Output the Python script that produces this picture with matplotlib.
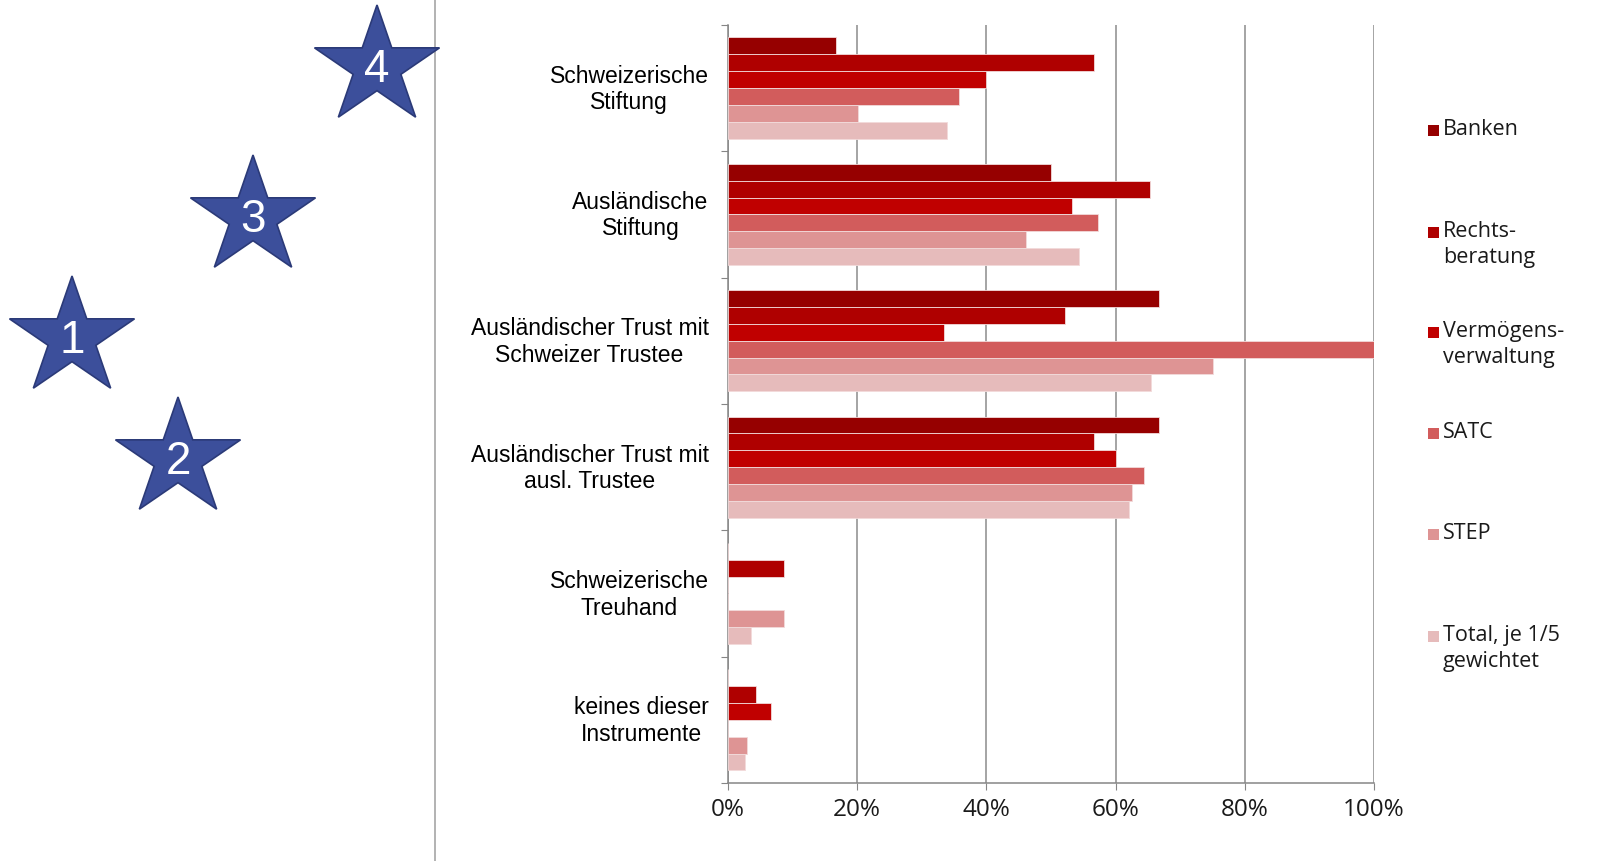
import numpy as np
import matplotlib.pyplot as plt
import matplotlib.transforms as mtrans
from matplotlib.patches import Polygon, Rectangle
from matplotlib.ticker import FuncFormatter

# categories (top to bottom) and series
categories = ['Schweizerische\nStiftung', 'Ausländische\nStiftung',
              'Ausländischer Trust mit\nSchweizer Trustee',
              'Ausländischer Trust mit\nausl. Trustee',
              'Schweizerische\nTreuhand', 'keines dieser\nInstrumente']
series = ['Banken', 'Rechts-\nberatung', 'Vermögens-\nverwaltung', 'SATC', 'STEP',
          'Total, je 1/5\ngewichtet']

# values in percent
banken = [16.7, 50.0, 66.7, 66.7, 0.0, 0.0]
rechts = [56.6, 65.3, 52.2, 56.6, 8.7, 4.4]
verm = [40.0, 53.3, 33.4, 60.0, 0.0, 6.6]
satc = [35.7, 57.2, 100.0, 64.4, 0.0, 0.0]
step = [20.1, 46.1, 75.0, 62.5, 8.6, 2.9]
total = [33.9, 54.4, 65.5, 62.0, 3.5, 2.7]
values = [banken, rechts, verm, satc, step, total]

colors = ['#960000', '#AF0000', '#C00000', '#D25C5C', '#DE9494', '#E6BBBB']

# decorative numbered stars (pixel positions)
star_labels = ['1', '2', '3', '4']
star_x = [72, 178, 253, 377]
star_y = [339, 460, 218, 68]

W, H = 1616, 862
fig = plt.figure(figsize=(W / 100, H / 100), dpi=100)

# overlay for decorations
bg = fig.add_axes([0, 0, 1, 1])
bg.set_xlim(0, W)
bg.set_ylim(H, 0)
bg.axis('off')

bg.plot([435, 435], [0, H], color='#A6A6A6', lw=1.2)


def star(cx, cy, r):
    ang = np.pi / 2 + np.arange(10) * np.pi / 5
    rad = np.where(np.arange(10) % 2 == 0, r, r * 0.382)
    pts = np.column_stack([cx + 1.06 * rad * np.cos(ang), cy - rad * np.sin(ang)])
    return pts


for lab, sx, sy in zip(star_labels, star_x, star_y):
    bg.add_patch(Polygon(star(sx, sy, 62), closed=True, fc='#3C4F9B',
                         ec='#2B3A78', lw=1.2, zorder=3))
    bg.text(sx, sy + 2, lab, color='white', fontsize=33, ha='center', va='center',
            family='Liberation Sans', zorder=4)

# legend drawn by hand (marker next to first line)
leg_y = [131, 233, 333, 434, 535, 637]
for lab, c, ly in zip(series, colors, leg_y):
    bg.add_patch(Rectangle((1428, ly - 5), 11, 11, fc=c, ec='none'))
    bg.text(1443, ly - 12, lab, fontsize=15.5, family='Open Sans', va='top',
            ha='left', color='#1A1A1A', linespacing=1.3)

# main chart
ax = fig.add_axes([728 / W, 0.0905, 646 / W, 0.8795])
n = len(series)
h = 0.8 / n
y = np.arange(len(categories))
for j, (vals, c) in enumerate(zip(values, colors)):
    ax.barh(y + (j - (n - 1) / 2) * h, vals, height=h, color=c,
            edgecolor='#F2DADA', linewidth=0.6, zorder=3)

ax.set_xlim(0, 100)
ax.set_ylim(len(categories) - 0.5, -0.5)
ax.set_xticks(np.arange(0, 101, 20))
ax.xaxis.set_major_formatter(FuncFormatter(lambda v, p: f'{v:.0f}%'))
ax.set_yticks(np.arange(-0.5, len(categories), 1.0))
ax.set_yticklabels([])
ax.set_yticks(y, categories, minor=True)
ax.tick_params(axis='y', which='minor', length=0, pad=14)
ax.tick_params(axis='y', which='major', length=5, color='#868686', direction='out')
ax.tick_params(axis='x', length=5, color='#868686', pad=5, labelsize=17.5)
shift = mtrans.ScaledTranslation(0, 4 / 100, fig.dpi_scale_trans)
for t in ax.get_yticklabels(minor=True):
    t.set_fontsize(16.5)
    t.set_family('Liberation Sans')
    t.set_multialignment('center')
    t.set_transform(t.get_transform() + shift)
for t in ax.get_xticklabels():
    t.set_family('Open Sans')
    t.set_color('#1A1A1A')

ax.grid(axis='x', color='#8C8C8C', lw=1.1)
ax.set_axisbelow(True)
for s in ['top', 'right']:
    ax.spines[s].set_visible(False)
for s in ['left', 'bottom']:
    ax.spines[s].set_color('#868686')
    ax.spines[s].set_linewidth(1.1)

fig.savefig('out.png', dpi=100)
